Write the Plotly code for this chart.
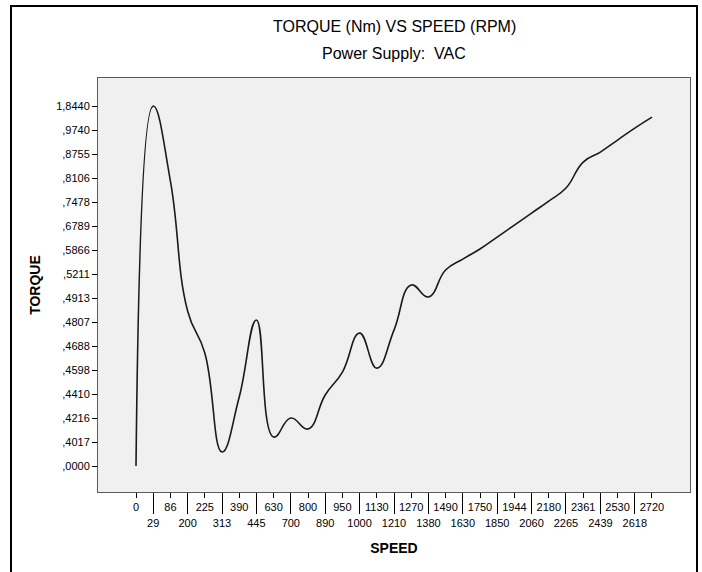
import numpy as np
import plotly.graph_objects as go

# Category labels on the x axis (speed, RPM)
speed_labels = ["0", "29", "86", "200", "225", "313", "390", "445", "630", "700",
                "800", "890", "950", "1000", "1130", "1210", "1270", "1380", "1490",
                "1630", "1750", "1850", "1944", "2060", "2180", "2265", "2361",
                "2439", "2530", "2618", "2720"]

# Ordered torque categories shown on the y axis
torque_tick_values = [0.0000, 0.4017, 0.4216, 0.4410, 0.4598, 0.4688, 0.4807, 0.4913,
                      0.5211, 0.5866, 0.6789, 0.7478, 0.8106, 0.8755, 0.9740, 1.8440]
torque_tick_labels = [",0000", ",4017", ",4216", ",4410", ",4598", ",4688", ",4807",
                      ",4913", ",5211", ",5866", ",6789", ",7478", ",8106", ",8755",
                      ",9740", "1,8440"]

# Torque (Nm) at each speed category
torque = [0.0000, 1.8440, 0.8028, 0.4856, 0.4662, 0.2342, 0.4386, 0.4816, 0.4058,
          0.4216, 0.4125, 0.4402, 0.4582, 0.4752, 0.4605, 0.4767, 0.5075, 0.4926,
          0.5320, 0.5620, 0.5905, 0.6366, 0.6818, 0.7162, 0.7504, 0.7844, 0.8539,
          0.8837, 0.9329, 1.0462, 1.4455]

n = len(speed_labels)
xpos = np.arange(n)
# ordinal torque scale: position along the category axis
ypos = np.interp(torque, torque_tick_values, np.arange(len(torque_tick_values)))

fig = go.Figure()
fig.add_trace(go.Scatter(x=xpos, y=ypos, mode="lines",
                         line=dict(color="#1a1a1a", width=1.6, shape="spline", smoothing=1.3),
                         hoverinfo="skip", showlegend=False))
fig.add_trace(go.Scatter(x=[xpos[0]], y=[ypos[0]], xaxis="x2", mode="markers",
                         marker=dict(opacity=0), hoverinfo="skip", showlegend=False))

xr = [-2.21, 32.21]
font_tick = dict(family="Liberation Sans, Arial, sans-serif", size=11, color="#000")

even = xpos[0::2]
odd = xpos[1::2]

L, T, PW, PH = 98, 78, 592, 414

fig.update_layout(
    width=702, height=572,
    margin=dict(l=L, r=702 - L - PW, t=T, b=572 - T - PH),
    paper_bgcolor="white",
    plot_bgcolor="#f0f0f0",
    font=dict(family="Liberation Sans, Arial, sans-serif", color="#000"),
    xaxis=dict(range=xr, tickmode="array", tickvals=even,
               ticktext=[speed_labels[i] for i in even],
               ticks="outside", ticklen=5, tickcolor="#000", tickwidth=1,
               showgrid=False, zeroline=False, showline=True, mirror=True,
               linecolor="#5a5a5a", linewidth=1, tickfont=font_tick,
               title=dict(text="<b>SPEED</b>", font=dict(size=14), standoff=30)),
    xaxis2=dict(range=xr, overlaying="x", side="bottom", anchor="y",
                tickmode="array", tickvals=odd,
                ticktext=[speed_labels[i] for i in odd],
                ticks="outside", ticklen=21, tickcolor="#000", tickwidth=1,
                showgrid=False, zeroline=False, showline=False, tickfont=font_tick),
    yaxis=dict(range=[-1.083, 16.17], tickmode="array",
               tickvals=list(range(len(torque_tick_labels))),
               ticktext=torque_tick_labels,
               ticks="outside", ticklen=5, tickcolor="#000", tickwidth=1,
               showgrid=False, zeroline=False, showline=True, mirror=True,
               linecolor="#5a5a5a", linewidth=1, tickfont=font_tick,
               title=dict(text="<b>TORQUE</b>", font=dict(size=14), standoff=12)),
    annotations=[
        dict(text="TORQUE (Nm) VS SPEED (RPM)", xref="paper", yref="paper",
             x=0.5, y=(T + PH - 26) / PH, xanchor="center", yanchor="middle",
             showarrow=False, font=dict(size=16)),
        dict(text="Power Supply:\u00a0 VAC", xref="paper", yref="paper",
             x=0.5, y=(T + PH - 54) / PH, xanchor="center", yanchor="middle",
             showarrow=False, font=dict(size=16)),
    ],
    shapes=[dict(type="rect", xref="paper", yref="paper",
                 x0=(11 - L) / PW, x1=(697 - L) / PW,
                 y0=(T + PH - 590) / PH, y1=(T + PH - 6) / PH,
                 line=dict(color="#000", width=2), fillcolor="rgba(0,0,0,0)",
                 layer="below")],
)

fig.write_html("out.html", config={"displayModeBar": False},
               post_script="document.body.style.margin='0px';")
